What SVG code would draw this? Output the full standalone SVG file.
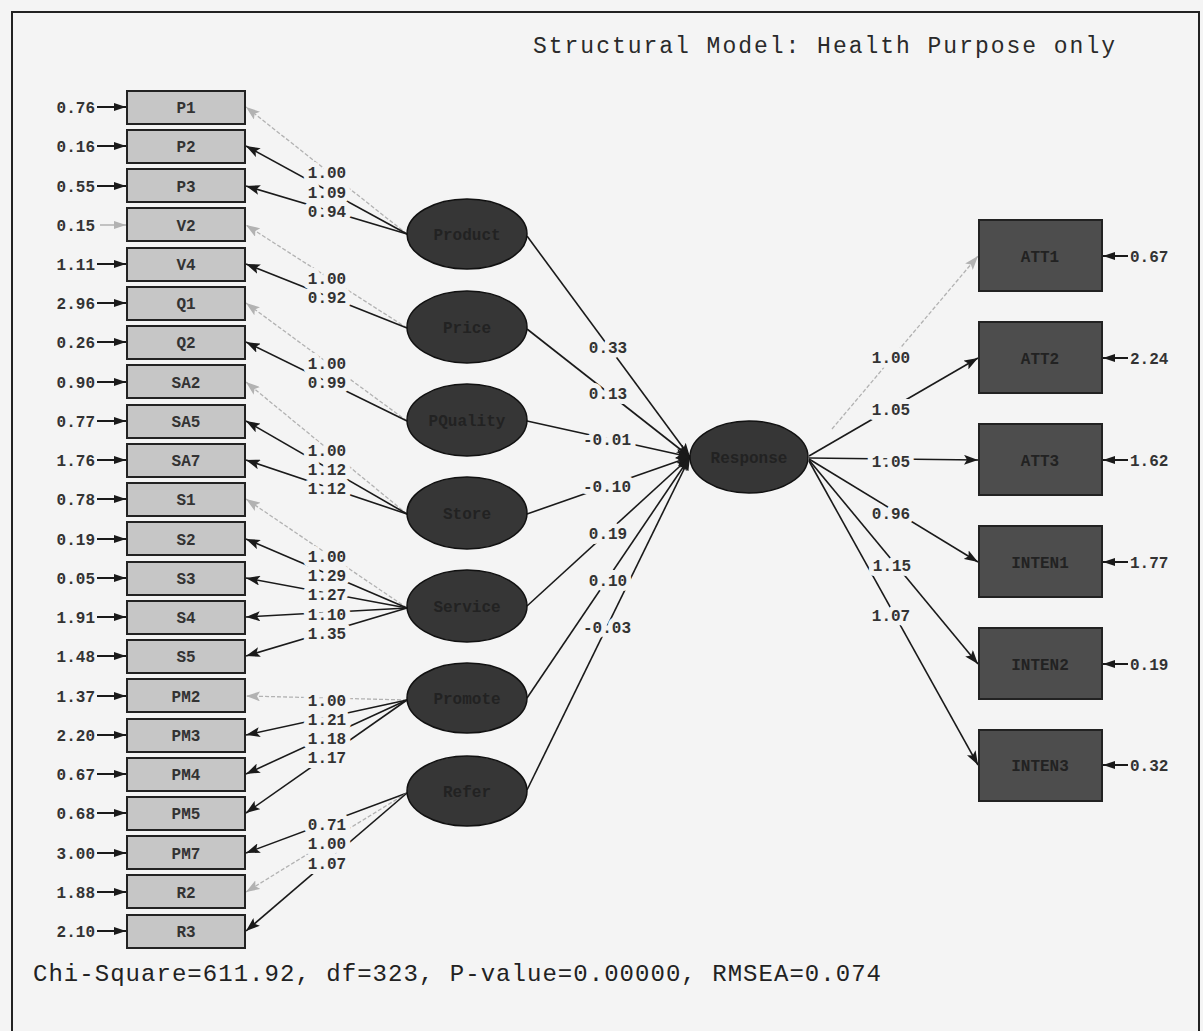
<svg xmlns="http://www.w3.org/2000/svg" width="1203" height="1031" viewBox="0 0 1203 1031">
  <style>
    .bg { fill: #f4f4f4; }
    .frame { fill: none; stroke: #222; stroke-width: 2; }
    .obs { fill: #c6c6c6; stroke: #222; stroke-width: 2; }
    .obs-dark { fill: #4d4d4d; stroke: #222; stroke-width: 2; }
    .lat { fill: #363636; stroke: #111; stroke-width: 1.5; }
    .t { font-family: "Liberation Mono", "DejaVu Sans Mono", monospace; font-size: 16px; font-weight: bold; fill: #333; }
    .tc { text-anchor: middle; }
    .te { text-anchor: end; }
    .lbl text { paint-order: stroke fill; stroke: #f4f4f4; stroke-width: 10px; stroke-linejoin: round; }
    .dim { fill: #222; }
    .path { stroke: #1a1a1a; stroke-width: 1.6; fill: none; marker-end: url(#ah); }
    .fixed { stroke: #b2b2b2; stroke-width: 1.3; stroke-dasharray: 4 2; fill: none; marker-end: url(#ahg); }
    .err { stroke: #1a1a1a; stroke-width: 2; fill: none; marker-end: url(#ahe); }
    .err-fixed { stroke: #b2b2b2; stroke-width: 1.5; fill: none; marker-end: url(#aheg); }
    .head { font-family: "Liberation Mono", "DejaVu Sans Mono", monospace; font-size: 23px; fill: #2a2a2a; }
    .foot { font-family: "Liberation Mono", "DejaVu Sans Mono", monospace; font-size: 24px; fill: #222; }
  </style>
  <defs>
    <marker id="ah" viewBox="0 0 14 10" refX="14" refY="5" markerWidth="14" markerHeight="10" markerUnits="userSpaceOnUse" orient="auto">
      <path d="M0,0 L14,5 L0,10 L3,5 z" fill="#1a1a1a"/>
    </marker>
    <marker id="ahg" viewBox="0 0 14 10" refX="14" refY="5" markerWidth="14" markerHeight="10" markerUnits="userSpaceOnUse" orient="auto">
      <path d="M0,0 L14,5 L0,10 L3,5 z" fill="#b2b2b2"/>
    </marker>
    <marker id="ahe" viewBox="0 0 12 10" refX="12" refY="5" markerWidth="12" markerHeight="10" markerUnits="userSpaceOnUse" orient="auto">
      <path d="M0,1 L12,5 L0,9 z" fill="#1a1a1a"/>
    </marker>
    <marker id="aheg" viewBox="0 0 12 10" refX="12" refY="5" markerWidth="12" markerHeight="10" markerUnits="userSpaceOnUse" orient="auto">
      <path d="M0,1 L12,5 L0,9 z" fill="#b2b2b2"/>
    </marker>
  </defs>

  <rect class="bg" x="0" y="0" width="1203" height="1031"/>
  <rect class="frame" x="12" y="12" width="1187" height="1030"/>

  <text class="head" x="533" y="53" textLength="582" lengthAdjust="spacing">Structural Model: Health Purpose only</text>

  <!-- paths -->
  <g id="connectors">
    <!-- measurement: Product -->
    <line class="fixed" x1="407" y1="234" x2="246" y2="107"/>
    <line class="path" x1="407" y1="234" x2="246" y2="146"/>
    <line class="path" x1="407" y1="234" x2="246" y2="186"/>
    <!-- Price -->
    <line class="fixed" x1="407" y1="328" x2="246" y2="225"/>
    <line class="path" x1="407" y1="328" x2="246" y2="264"/>
    <!-- Quality -->
    <line class="fixed" x1="407" y1="421" x2="246" y2="303"/>
    <line class="path" x1="407" y1="421" x2="246" y2="342"/>
    <!-- Store -->
    <line class="fixed" x1="407" y1="514" x2="246" y2="382"/>
    <line class="path" x1="407" y1="514" x2="246" y2="421"/>
    <line class="path" x1="407" y1="514" x2="246" y2="460"/>
    <!-- Service -->
    <line class="fixed" x1="407" y1="608" x2="246" y2="499"/>
    <line class="path" x1="407" y1="608" x2="246" y2="539"/>
    <line class="path" x1="407" y1="608" x2="246" y2="578"/>
    <line class="path" x1="407" y1="608" x2="246" y2="617"/>
    <line class="path" x1="407" y1="608" x2="246" y2="656"/>
    <!-- Promote -->
    <line class="fixed" x1="407" y1="700" x2="246" y2="696"/>
    <line class="path" x1="407" y1="700" x2="246" y2="735"/>
    <line class="path" x1="407" y1="700" x2="246" y2="774"/>
    <line class="path" x1="407" y1="700" x2="246" y2="813"/>
    <!-- Refer -->
    <line class="path" x1="407" y1="793" x2="246" y2="853"/>
    <line class="fixed" x1="407" y1="793" x2="246" y2="892"/>
    <line class="path" x1="407" y1="793" x2="246" y2="931"/>

    <!-- structural paths -->
    <line class="path" x1="527" y1="236" x2="690" y2="457"/>
    <line class="path" x1="527" y1="329" x2="690" y2="457"/>
    <line class="path" x1="527" y1="421" x2="690" y2="457"/>
    <line class="path" x1="527" y1="514" x2="690" y2="457"/>
    <line class="path" x1="527" y1="606" x2="690" y2="457"/>
    <line class="path" x1="527" y1="698" x2="690" y2="457"/>
    <line class="path" x1="527" y1="790" x2="690" y2="457"/>

    <!-- outcome indicators -->
    <line class="fixed" x1="832" y1="429" x2="978" y2="256"/>
    <line class="path" x1="809" y1="456" x2="978" y2="358"/>
    <line class="path" x1="809" y1="458" x2="978" y2="460"/>
    <line class="path" x1="809" y1="459" x2="978" y2="562"/>
    <line class="path" x1="809" y1="460" x2="978" y2="664"/>
    <line class="path" x1="809" y1="461" x2="978" y2="765"/>

    <!-- error terms, left -->
    <line class="err" x1="97" y1="107" x2="126" y2="107"/>
    <line class="err" x1="97" y1="146" x2="126" y2="146"/>
    <line class="err" x1="97" y1="186" x2="126" y2="186"/>
    <line class="err-fixed" x1="100" y1="225" x2="126" y2="225"/>
    <line class="err" x1="97" y1="264" x2="126" y2="264"/>
    <line class="err" x1="97" y1="303" x2="126" y2="303"/>
    <line class="err" x1="97" y1="342" x2="126" y2="342"/>
    <line class="err" x1="97" y1="382" x2="126" y2="382"/>
    <line class="err" x1="97" y1="421" x2="126" y2="421"/>
    <line class="err" x1="97" y1="460" x2="126" y2="460"/>
    <line class="err" x1="97" y1="499" x2="126" y2="499"/>
    <line class="err" x1="97" y1="539" x2="126" y2="539"/>
    <line class="err" x1="97" y1="578" x2="126" y2="578"/>
    <line class="err" x1="97" y1="617" x2="126" y2="617"/>
    <line class="err" x1="97" y1="656" x2="126" y2="656"/>
    <line class="err" x1="97" y1="696" x2="126" y2="696"/>
    <line class="err" x1="97" y1="735" x2="126" y2="735"/>
    <line class="err" x1="97" y1="774" x2="126" y2="774"/>
    <line class="err" x1="97" y1="813" x2="126" y2="813"/>
    <line class="err" x1="97" y1="853" x2="126" y2="853"/>
    <line class="err" x1="97" y1="892" x2="126" y2="892"/>
    <line class="err" x1="97" y1="931" x2="126" y2="931"/>

    <!-- error terms, right -->
    <line class="err" x1="1128" y1="256" x2="1103" y2="256"/>
    <line class="err" x1="1128" y1="358" x2="1103" y2="358"/>
    <line class="err" x1="1128" y1="460" x2="1103" y2="460"/>
    <line class="err" x1="1128" y1="562" x2="1103" y2="562"/>
    <line class="err" x1="1128" y1="664" x2="1103" y2="664"/>
    <line class="err" x1="1128" y1="765" x2="1103" y2="765"/>
  </g>

  <!-- path coefficients -->
  <g id="coefficients" class="t lbl tc">
    <text x="327" y="178">1.00</text>
    <text x="327" y="198">1.09</text>
    <text x="327" y="217">0.94</text>
    <text x="327" y="284">1.00</text>
    <text x="327" y="303">0.92</text>
    <text x="327" y="369">1.00</text>
    <text x="327" y="388">0.99</text>
    <text x="327" y="456">1.00</text>
    <text x="327" y="475">1.12</text>
    <text x="327" y="494">1.12</text>
    <text x="327" y="562">1.00</text>
    <text x="327" y="581">1.29</text>
    <text x="327" y="600">1.27</text>
    <text x="327" y="620">1.10</text>
    <text x="327" y="639">1.35</text>
    <text x="327" y="706">1.00</text>
    <text x="327" y="725">1.21</text>
    <text x="327" y="744">1.18</text>
    <text x="327" y="763">1.17</text>
    <text x="327" y="830">0.71</text>
    <text x="327" y="849">1.00</text>
    <text x="327" y="869">1.07</text>

    <text x="608" y="353">0.33</text>
    <text x="608" y="399">0.13</text>
    <text x="607" y="445">-0.01</text>
    <text x="607" y="492">-0.10</text>
    <text x="608" y="539">0.19</text>
    <text x="608" y="586">0.10</text>
    <text x="607" y="633">-0.03</text>

    <text x="891" y="363">1.00</text>
    <text x="891" y="415">1.05</text>
    <text x="891" y="467">1.05</text>
    <text x="891" y="519">0.96</text>
    <text x="892" y="571">1.15</text>
    <text x="891" y="621">1.07</text>
  </g>

  <!-- error variances -->
  <g id="errors" class="t te">
    <text x="95" y="113">0.76</text>
    <text x="95" y="152">0.16</text>
    <text x="95" y="192">0.55</text>
    <text x="95" y="231">0.15</text>
    <text x="95" y="270">1.11</text>
    <text x="95" y="309">2.96</text>
    <text x="95" y="348">0.26</text>
    <text x="95" y="388">0.90</text>
    <text x="95" y="427">0.77</text>
    <text x="95" y="466">1.76</text>
    <text x="95" y="505">0.78</text>
    <text x="95" y="545">0.19</text>
    <text x="95" y="584">0.05</text>
    <text x="95" y="623">1.91</text>
    <text x="95" y="662">1.48</text>
    <text x="95" y="702">1.37</text>
    <text x="95" y="741">2.20</text>
    <text x="95" y="780">0.67</text>
    <text x="95" y="819">0.68</text>
    <text x="95" y="859">3.00</text>
    <text x="95" y="898">1.88</text>
    <text x="95" y="937">2.10</text>
  </g>
  <g id="errors-right" class="t">
    <text x="1130" y="262">0.67</text>
    <text x="1130" y="364">2.24</text>
    <text x="1130" y="466">1.62</text>
    <text x="1130" y="568">1.77</text>
    <text x="1130" y="670">0.19</text>
    <text x="1130" y="771">0.32</text>
  </g>

  <!-- observed indicators, left column -->
  <g id="P1"><rect class="obs" x="127" y="91" width="118" height="33"/><text class="t tc" x="186" y="113">P1</text></g>
  <g id="P2"><rect class="obs" x="127" y="130" width="118" height="33"/><text class="t tc" x="186" y="152">P2</text></g>
  <g id="P3"><rect class="obs" x="127" y="169" width="118" height="33"/><text class="t tc" x="186" y="192">P3</text></g>
  <g id="V2"><rect class="obs" x="127" y="208" width="118" height="33"/><text class="t tc" x="186" y="231">V2</text></g>
  <g id="V4"><rect class="obs" x="127" y="248" width="118" height="33"/><text class="t tc" x="186" y="270">V4</text></g>
  <g id="Q1"><rect class="obs" x="127" y="287" width="118" height="33"/><text class="t tc" x="186" y="309">Q1</text></g>
  <g id="Q2"><rect class="obs" x="127" y="326" width="118" height="33"/><text class="t tc" x="186" y="348">Q2</text></g>
  <g id="SA2"><rect class="obs" x="127" y="365" width="118" height="33"/><text class="t tc" x="186" y="388">SA2</text></g>
  <g id="SA5"><rect class="obs" x="127" y="405" width="118" height="33"/><text class="t tc" x="186" y="427">SA5</text></g>
  <g id="SA7"><rect class="obs" x="127" y="444" width="118" height="33"/><text class="t tc" x="186" y="466">SA7</text></g>
  <g id="S1"><rect class="obs" x="127" y="483" width="118" height="33"/><text class="t tc" x="186" y="505">S1</text></g>
  <g id="S2"><rect class="obs" x="127" y="522" width="118" height="33"/><text class="t tc" x="186" y="545">S2</text></g>
  <g id="S3"><rect class="obs" x="127" y="562" width="118" height="33"/><text class="t tc" x="186" y="584">S3</text></g>
  <g id="S4"><rect class="obs" x="127" y="601" width="118" height="33"/><text class="t tc" x="186" y="623">S4</text></g>
  <g id="S5"><rect class="obs" x="127" y="640" width="118" height="33"/><text class="t tc" x="186" y="662">S5</text></g>
  <g id="PM2"><rect class="obs" x="127" y="679" width="118" height="33"/><text class="t tc" x="186" y="702">PM2</text></g>
  <g id="PM3"><rect class="obs" x="127" y="719" width="118" height="33"/><text class="t tc" x="186" y="741">PM3</text></g>
  <g id="PM4"><rect class="obs" x="127" y="758" width="118" height="33"/><text class="t tc" x="186" y="780">PM4</text></g>
  <g id="PM5"><rect class="obs" x="127" y="797" width="118" height="33"/><text class="t tc" x="186" y="819">PM5</text></g>
  <g id="PM7"><rect class="obs" x="127" y="836" width="118" height="33"/><text class="t tc" x="186" y="859">PM7</text></g>
  <g id="R2"><rect class="obs" x="127" y="875" width="118" height="33"/><text class="t tc" x="186" y="898">R2</text></g>
  <g id="R3"><rect class="obs" x="127" y="915" width="118" height="33"/><text class="t tc" x="186" y="937">R3</text></g>

  <!-- latent factors -->
  <g id="Product"><ellipse class="lat" cx="467" cy="234" rx="60" ry="35"/><text class="t tc dim" x="467" y="240">Product</text></g>
  <g id="Price"><ellipse class="lat" cx="467" cy="327" rx="60" ry="36"/><text class="t tc dim" x="467" y="333">Price</text></g>
  <g id="Quality"><ellipse class="lat" cx="467" cy="420" rx="60" ry="36"/><text class="t tc dim" x="467" y="426">PQuality</text></g>
  <g id="Store"><ellipse class="lat" cx="467" cy="513" rx="60" ry="36"/><text class="t tc dim" x="467" y="519">Store</text></g>
  <g id="Service"><ellipse class="lat" cx="467" cy="606" rx="60" ry="36"/><text class="t tc dim" x="467" y="612">Service</text></g>
  <g id="Promote"><ellipse class="lat" cx="467" cy="698" rx="60" ry="35"/><text class="t tc dim" x="467" y="704">Promote</text></g>
  <g id="Refer"><ellipse class="lat" cx="467" cy="791" rx="60" ry="35"/><text class="t tc dim" x="467" y="797">Refer</text></g>

  <g id="Response"><ellipse class="lat" cx="749" cy="457" rx="59" ry="36"/><text class="t tc dim" x="749" y="463">Response</text></g>

  <!-- observed indicators, right column -->
  <g id="ATT1"><rect class="obs-dark" x="979" y="220" width="123" height="71"/><text class="t tc dim" x="1040" y="262">ATT1</text></g>
  <g id="ATT2"><rect class="obs-dark" x="979" y="322" width="123" height="71"/><text class="t tc dim" x="1040" y="364">ATT2</text></g>
  <g id="ATT3"><rect class="obs-dark" x="979" y="424" width="123" height="71"/><text class="t tc dim" x="1040" y="466">ATT3</text></g>
  <g id="INTEN1"><rect class="obs-dark" x="979" y="526" width="123" height="71"/><text class="t tc dim" x="1040" y="568">INTEN1</text></g>
  <g id="INTEN2"><rect class="obs-dark" x="979" y="628" width="123" height="71"/><text class="t tc dim" x="1040" y="670">INTEN2</text></g>
  <g id="INTEN3"><rect class="obs-dark" x="979" y="730" width="123" height="71"/><text class="t tc dim" x="1040" y="771">INTEN3</text></g>

  <text class="foot" x="33" y="981" textLength="848" lengthAdjust="spacing">Chi-Square=611.92, df=323, P-value=0.00000, RMSEA=0.074</text>
</svg>
